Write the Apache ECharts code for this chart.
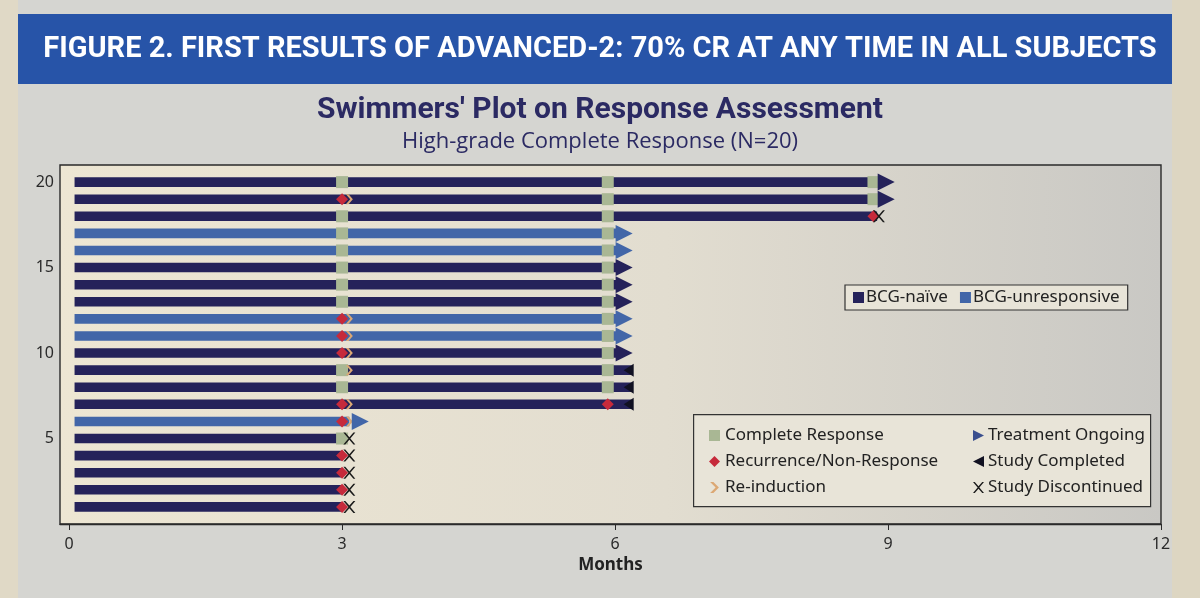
<!DOCTYPE html>
<html>
<head>
<meta charset="utf-8">
<script src="https://cdn.jsdelivr.net/npm/echarts@6/dist/echarts.min.js"></script>
<style>
  html, body { margin: 0; padding: 0; background: #d5d5d1; }
  #chart { width: 1200px; height: 598px; }
</style>
</head>
<body>
<div id="chart"></div>
<script>
// subject rows, bottom to top
const rows = [1, 2, 3, 4, 5, 6, 7, 8, 9, 10, 11, 12, 13, 14, 15, 16, 17, 18, 19, 20];
// months on study for each row
const barStart = 0.06;
const barEnd = [3.0, 3.0, 3.0, 3.0, 3.0, 3.08, 6.18, 6.18, 6.18, 6.02, 6.02, 6.02, 6.02, 6.02, 6.02, 6.02, 6.02, 8.88, 8.88, 8.88];
// N = BCG-naïve, U = BCG-unresponsive
const cohort = ['N', 'N', 'N', 'N', 'N', 'U', 'N', 'N', 'N', 'N', 'U', 'U', 'N', 'N', 'N', 'U', 'U', 'N', 'N', 'N'];

// [month, row]
const completeResponse = [
    [3.0, 5], [3.0, 8], [3.0, 9], [3.0, 13], [3.0, 14], [3.0, 15], [3.0, 16], [3.0, 17], [3.0, 18], [3.0, 20],
    [5.92, 8], [5.92, 9], [5.92, 10], [5.92, 11], [5.92, 12], [5.92, 13], [5.92, 14], [5.92, 15],
    [5.92, 16], [5.92, 17], [5.92, 18], [5.92, 19], [5.92, 20],
    [8.84, 19], [8.84, 20]
];
const recurrence = [
    [3.0, 1], [3.0, 2], [3.0, 3], [3.0, 4], [3.0, 6], [3.0, 7], [3.0, 10], [3.0, 11], [3.0, 12], [3.0, 19],
    [5.92, 7], [8.84, 18]
];
const reinduction = [[3.08, 6], [3.08, 7], [3.08, 9], [3.08, 10], [3.08, 11], [3.08, 12], [3.08, 19]];
const ongoing = [
    [3.2, 6], [6.1, 10], [6.1, 11], [6.1, 12], [6.1, 13], [6.1, 14], [6.1, 15], [6.1, 16], [6.1, 17],
    [8.98, 19], [8.98, 20]
];
const completed = [[6.15, 7], [6.15, 8], [6.15, 9]];
const discontinued = [[3.08, 1], [3.08, 2], [3.08, 3], [3.08, 4], [3.08, 5], [8.9, 18]];

const xTicks = [0, 3, 6, 9, 12];
const yTicks = [5, 10, 15, 20];

const NAIVE = '#25225a';
const UNRESP = '#4266a8';

const chart = echarts.init(document.getElementById('chart'));

function barData(code) {
    return rows.filter((r, i) => cohort[i] === code).map(r => [barEnd[r - 1], r]);
}

function renderBar(params, api) {
    const start = api.coord([barStart, api.value(1)]);
    const end = api.coord([api.value(0), api.value(1)]);
    const h = api.size([0, 1])[1] * 0.56;
    return {
        type: 'rect',
        shape: { x: start[0], y: start[1] - h / 2, width: end[0] - start[0], height: h },
        style: { fill: api.visual('color') }
    };
}

const arrowRight = 'path://M0,0 L10,5 L0,10 Z';
const arrowLeft = 'path://M10,0 L0,5 L10,10 Z';
const cross = 'path://M0,0 L1.6,0 L5,3.9 L8.4,0 L10,0 L5.8,5 L10,10 L8.4,10 L5,6.1 L1.6,10 L0,10 L4.2,5 Z';
const chevron = 'path://M0,0 L3,0 L8,5 L3,10 L0,10 L5,5 Z';

const font = '"Noto Sans", "DejaVu Sans", sans-serif';

const option = {
    backgroundColor: '#d5d5d1',
    animation: false,
    graphic: [
        { type: 'rect', left: 0, top: 0, shape: { width: 18, height: 598 }, style: { fill: '#e0d9c6' }, z: -1 },
        { type: 'rect', left: 1172, top: 0, shape: { width: 28, height: 598 }, style: { fill: '#ddd6c2' }, z: -1 },
        { type: 'rect', left: 18, top: 14, shape: { width: 1154, height: 70 }, style: { fill: '#2754a8' } },
        {
            type: 'text', left: 'center', top: 35,
            style: {
                text: 'FIGURE 2. FIRST RESULTS OF ADVANCED-2: 70% CR AT ANY TIME IN ALL SUBJECTS',
                fill: '#ffffff', font: 'bold 29px Roboto, sans-serif'
            }
        },
        {
            type: 'rect', left: 693, top: 414, z: 3,
            shape: { width: 457, height: 92 },
            style: { fill: '#e8e4d8', stroke: '#333', lineWidth: 1.2 }
        }
    ],
    title: {
        text: "Swimmers' Plot on Response Assessment",
        subtext: 'High-grade Complete Response (N=20)',
        left: 'center',
        top: 90,
        itemGap: 6,
        textStyle: { fontFamily: 'Roboto, sans-serif', fontSize: 30, fontWeight: 'bold', color: '#2b2a63' },
        subtextStyle: { fontFamily: '"Open Sans", sans-serif', fontSize: 22, color: '#2b2a63' }
    },
    grid: {
        left: 60, right: 39, top: 165, bottom: 74,
        show: true,
        borderColor: '#2a2a2a',
        borderWidth: 1.4,
        backgroundColor: new echarts.graphic.LinearGradient(0, 0, 1, 0, [
            { offset: 0, color: '#ede6d3' },
            { offset: 0.55, color: '#e2ddd0' },
            { offset: 1, color: '#c9c8c4' }
        ])
    },
    xAxis: {
        type: 'value', min: -0.1, max: 12,
        name: 'Months', nameLocation: 'middle', nameGap: 33,
        nameTextStyle: { fontFamily: font, fontSize: 17, fontWeight: 'bold', color: '#222' },
        axisLine: { show: true, lineStyle: { color: '#2a2a2a', width: 1.4 } },
        axisTick: { show: true, customValues: xTicks, length: 6, lineStyle: { color: '#2a2a2a' } },
        axisLabel: { customValues: xTicks, fontFamily: font, fontSize: 16, color: '#2a2a2a', margin: 12 },
        splitLine: { show: false }
    },
    yAxis: {
        type: 'value', min: 0, max: 21,
        axisLine: { show: false },
        axisTick: { show: false },
        axisLabel: { customValues: yTicks, fontFamily: font, fontSize: 16, color: '#2a2a2a', margin: 6 },
        splitLine: { show: false }
    },
    legend: [
        {
            data: ['BCG-naïve', 'BCG-unresponsive'],
            left: 845, top: 285,
            icon: 'rect', itemWidth: 11, itemHeight: 11, itemGap: 12,
            padding: [4, 8],
            backgroundColor: '#e8e4d8', borderColor: '#333', borderWidth: 1.2,
            textStyle: { fontFamily: font, fontSize: 17, color: '#222', padding: [0, 0, 0, -3] }
        },
        {
            data: ['Complete Response', 'Recurrence/Non-Response', 'Re-induction'],
            orient: 'vertical', left: 704, top: 422,
            itemWidth: 11, itemHeight: 11, itemGap: 9,
            textStyle: { fontFamily: font, fontSize: 17, color: '#222' }
        },
        {
            data: ['Treatment Ongoing', 'Study Completed', 'Study Discontinued'],
            orient: 'vertical', left: 968, top: 422,
            itemWidth: 11, itemHeight: 11, itemGap: 9,
            textStyle: { fontFamily: font, fontSize: 17, color: '#222', padding: [0, 0, 0, -1] }
        }
    ],
    series: [
        { name: 'BCG-naïve', type: 'custom', renderItem: renderBar, itemStyle: { color: NAIVE }, data: barData('N'), z: 2 },
        { name: 'BCG-unresponsive', type: 'custom', renderItem: renderBar, itemStyle: { color: UNRESP }, data: barData('U'), z: 2 },
        {
            name: 'Complete Response', type: 'scatter', symbol: 'rect', symbolSize: 12,
            itemStyle: { color: '#a9b794', opacity: 1 }, data: completeResponse, z: 3
        },
        {
            name: 'Recurrence/Non-Response', type: 'scatter', symbol: 'diamond', symbolSize: 12,
            itemStyle: { color: '#c62a3b', opacity: 1 }, data: recurrence, z: 4
        },
        {
            name: 'Re-induction', type: 'scatter', symbol: chevron, symbolSize: [7, 10],
            itemStyle: { color: '#dca874', opacity: 1 }, data: reinduction, z: 5
        },
        {
            name: 'Treatment Ongoing', type: 'scatter', symbol: arrowRight, symbolSize: [17, 17],
            itemStyle: { color: '#3a4f8e', opacity: 1 },
            data: ongoing.map(d => ({ value: d, itemStyle: { color: cohort[d[1] - 1] === 'U' ? UNRESP : NAIVE } })),
            z: 5
        },
        {
            name: 'Study Completed', type: 'scatter', symbol: arrowLeft, symbolSize: [10, 13],
            itemStyle: { color: '#111122', opacity: 1 }, data: completed, z: 5
        },
        {
            name: 'Study Discontinued', type: 'scatter', symbol: cross, symbolSize: [12, 12],
            itemStyle: { color: '#1a1a1a', opacity: 1 }, data: discontinued, z: 6
        }
    ]
};

chart.setOption(option);
window.addEventListener('resize', () => chart.resize());
</script>
</body>
</html>
